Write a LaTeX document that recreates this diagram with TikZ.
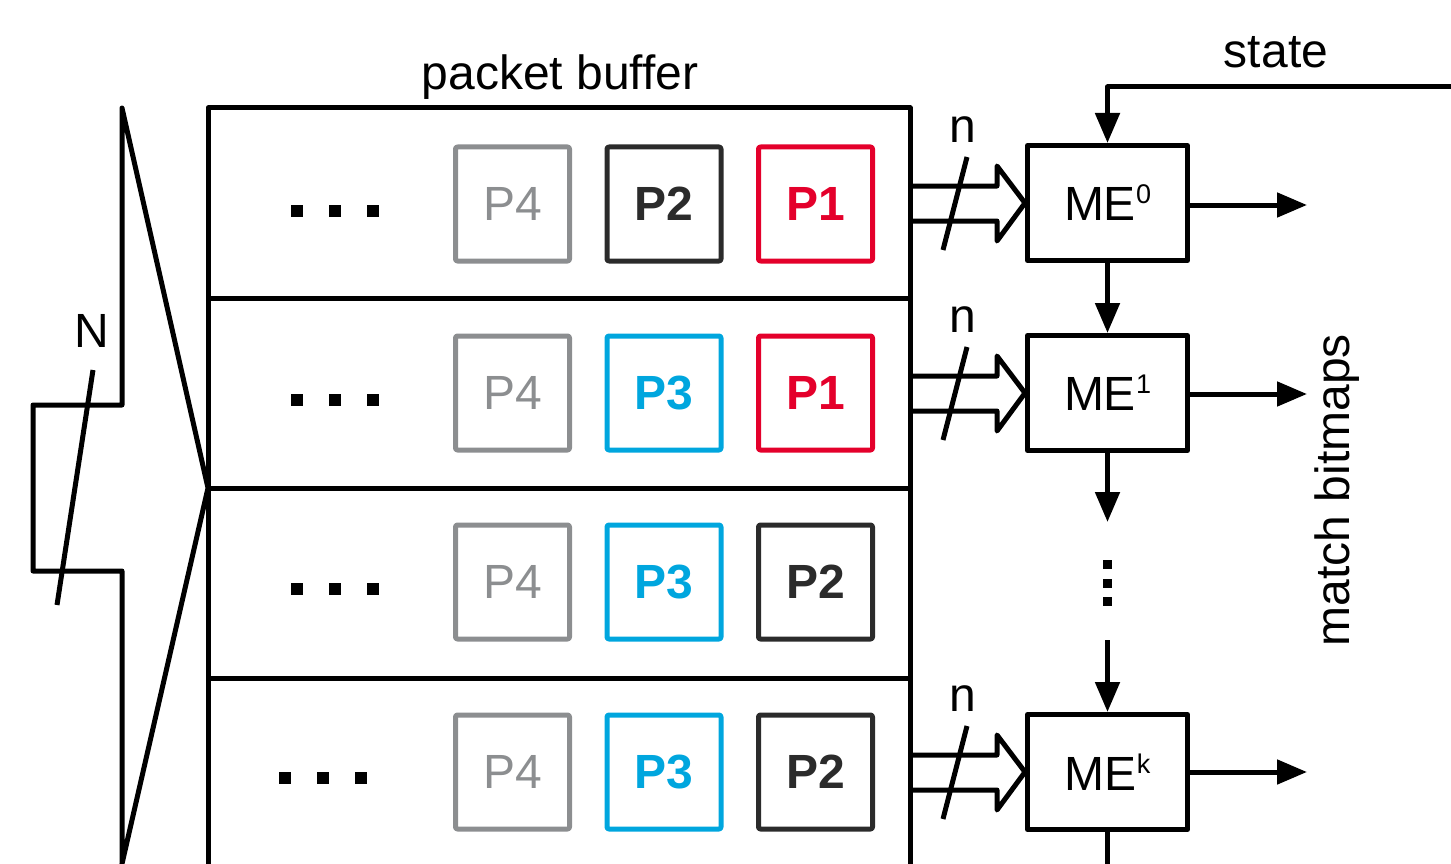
\documentclass[tikz,border=0pt]{standalone}
\usepackage{fontspec}
\setmainfont{Liberation Sans}
\usetikzlibrary{arrows.meta}
\definecolor{pgray}{HTML}{8C8E90}
\definecolor{pblack}{HTML}{2B2B2B}
\definecolor{pred}{HTML}{E4002B}
\definecolor{pblue}{HTML}{00A6DE}
\newcommand{\mysup}[1]{\raisebox{17pt}{\fontsize{27}{30}\selectfont #1}}
\begin{document}
\begin{tikzpicture}[x=1pt,y=-1pt,line width=5pt,line join=round,
  font=\fontsize{48}{56}\selectfont,
  pkt/.style={draw,rounded corners=2pt,minimum width=114pt,minimum height=114pt,inner sep=0pt},
  mebox/.style={draw,fill=white,minimum width=160pt,minimum height=115pt,inner sep=0pt},
  arr/.style={-{Triangle[length=30pt,width=24pt]}},
  sq/.style={fill=black,minimum size=12pt,inner sep=0pt},
  vsq/.style={fill=black,minimum size=9pt,inner sep=0pt},
  lbl/.style={inner sep=0pt}]
\useasboundingbox (0,0) rectangle (1451,864);
% packet buffer
\draw (208,108) rectangle (910,890);
\foreach \yy in {298,488,678} \draw (208,\yy) -- (910,\yy);
\node[lbl] (pbuf) at (560,77) {packet buffer};
% mux
\draw (122,890) -- (122,571) -- (33,571) -- (33,405) -- (122,405) -- (122,108) -- (208,488) -- (116,890);
\draw[line join=miter] (93,370) -- (57,605);
\node[lbl] (N) at (92,331) {N};
% packet rows
\node[pkt,draw=pgray,text=pgray] (a4) at (512.5,204) {P4};
\node[pkt,draw=pblack,text=pblack,font=\fontsize{48}{56}\selectfont\bfseries] (a2) at (664,204) {P2};
\node[pkt,draw=pred,text=pred,font=\fontsize{48}{56}\selectfont\bfseries] (a1) at (815.5,204) {P1};
\node[pkt,draw=pgray,text=pgray] (b4) at (512.5,393) {P4};
\node[pkt,draw=pblue,text=pblue,font=\fontsize{48}{56}\selectfont\bfseries] (b3) at (664,393) {P3};
\node[pkt,draw=pred,text=pred,font=\fontsize{48}{56}\selectfont\bfseries] (b1) at (815.5,393) {P1};
\node[pkt,draw=pgray,text=pgray] (c4) at (512.5,582) {P4};
\node[pkt,draw=pblue,text=pblue,font=\fontsize{48}{56}\selectfont\bfseries] (c3) at (664,582) {P3};
\node[pkt,draw=pblack,text=pblack,font=\fontsize{48}{56}\selectfont\bfseries] (c2) at (815.5,582) {P2};
\node[pkt,draw=pgray,text=pgray] (d4) at (512.5,772) {P4};
\node[pkt,draw=pblue,text=pblue,font=\fontsize{48}{56}\selectfont\bfseries] (d3) at (664,772) {P3};
\node[pkt,draw=pblack,text=pblack,font=\fontsize{48}{56}\selectfont\bfseries] (d2) at (815.5,772) {P2};
% dots
\foreach \yy/\xo [count=\i] in {211/0,400/0,589/0,778/-12}{
  \node[sq] (d\i a) at (297+\xo,\yy) {};
  \node[sq] (d\i b) at (335+\xo,\yy) {};
  \node[sq] (d\i c) at (373+\xo,\yy) {};
}
% match engines
\node[mebox] (me0) at (1107.5,203) {ME\mysup{0}};
\node[mebox] (me1) at (1107.5,393) {ME\mysup{1}};
\node[mebox] (mek) at (1107.5,772) {ME\mysup{k}};
% double arrows with n slash
\foreach \c/\m in {203/me0,393/me1,772/mek}{
  \draw (910,\c-17) -- (997,\c-17) -- (997,\c-37) -- (\m.west) -- (997,\c+38) -- (997,\c+18) -- (910,\c+18);
  \draw[line join=miter] (967,\c-46) -- (943,\c+47);
  \node[lbl] at (963,\c-73) {n};
}
% outputs
\coordinate (o0) at (1307,205);
\coordinate (o1) at (1307,394);
\coordinate (ok) at (1307,772);
\draw[arr] (me0.east |- o0) -- (o0);
\draw[arr] (me1.east |- o1) -- (o1);
\draw[arr] (mek.east |- ok) -- (ok);
\node[lbl,rotate=90] (mb) at (1337,490) {match bitmaps};
% vertical chain
\draw[arr] (me0.south) -- (me1.north);
\coordinate (c1) at (1107.5,522);
\draw[arr] (me1.south) -- (c1);
\node[vsq] (v1) at (1107.5,564) {};
\node[vsq] (v2) at (1107.5,583) {};
\node[vsq] (v3) at (1107.5,601) {};
\coordinate (c2) at (1107.5,640);
\draw[arr] (c2) -- (mek.north);
\coordinate (c3) at (1107.5,890);
\draw (mek.south) -- (c3);
% state
\coordinate (s0) at (1460,87);
\draw[arr] (s0) -- (1107.5,87) -- (me0.north);
\node[lbl] (st) at (1276,52) {state};
\end{tikzpicture}
\end{document}
